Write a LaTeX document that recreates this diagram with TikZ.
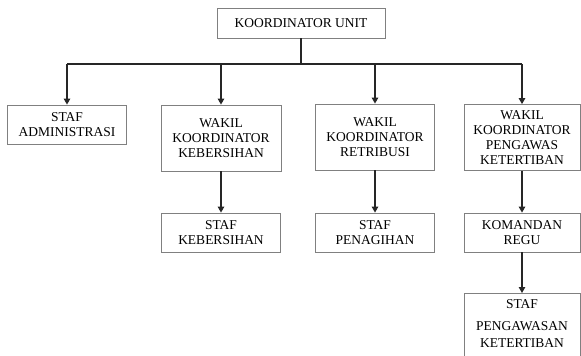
\documentclass[tikz,border=0pt]{standalone}
\usepackage{fontspec}
\setmainfont{Liberation Serif}
\usetikzlibrary{arrows.meta}
\begin{document}
\begin{tikzpicture}[x=1pt,y=-1pt,>={Triangle[width=6.5pt,length=6pt]},
    unit box/.style={draw=black!50,line width=0.8pt,inner sep=0pt,align=center,
        font=\fontsize{13.5}{15}\selectfont},
    link/.style={line width=1.2pt,draw=black!85}]
    \useasboundingbox (0,0) rectangle (581,356);
    \node[unit box,minimum width=168,minimum height=30] at (301,23) (top) {KOORDINATOR UNIT};
    \node[unit box,minimum width=119,minimum height=39] at (67,124.5) (admin) {STAF\\ADMINISTRASI};
    \node[unit box,minimum width=120,minimum height=66] at (221,138) (wkeb) {WAKIL\\KOORDINATOR\\KEBERSIHAN};
    \node[unit box,minimum width=119,minimum height=66] at (375,137) (wret) {WAKIL\\KOORDINATOR\\RETRIBUSI};
    \node[unit box,minimum width=116,minimum height=66] at (522,137.5) (wpeng) {WAKIL\\KOORDINATOR\\PENGAWAS\\KETERTIBAN};
    \node[unit box,minimum width=119,minimum height=39] at (221,232.5) (skeb) {STAF\\KEBERSIHAN};
    \node[unit box,minimum width=119,minimum height=39] at (375,232.5) (spen) {STAF\\PENAGIHAN};
    \node[unit box,minimum width=116,minimum height=39] at (522,232.5) (kom) {KOMANDAN\\REGU};
    \node[unit box,minimum width=116,minimum height=76,anchor=north] at (522,293) (speng) {STAF\\[7pt]PENGAWASAN\\[2pt]KETERTIBAN\\~};
    \coordinate (bus) at (0,64);

    \draw[link] (top.south) -- (top.south |- bus);
    \draw[link] (admin.north |- bus) -- (wpeng.north |- bus);
    \draw[link,->] (admin.north |- bus) -- (admin.north);
    \draw[link,->] (wkeb.north |- bus) -- (wkeb.north);
    \draw[link,->] (wret.north |- bus) -- (wret.north);
    \draw[link,->] (wpeng.north |- bus) -- (wpeng.north);
    \draw[link,->] (wkeb.south) -- (skeb.north);
    \draw[link,->] (wret.south) -- (spen.north);
    \draw[link,->] (wpeng.south) -- (kom.north);
    \draw[link,->] (kom.south) -- (speng.north);
\end{tikzpicture}
\end{document}
